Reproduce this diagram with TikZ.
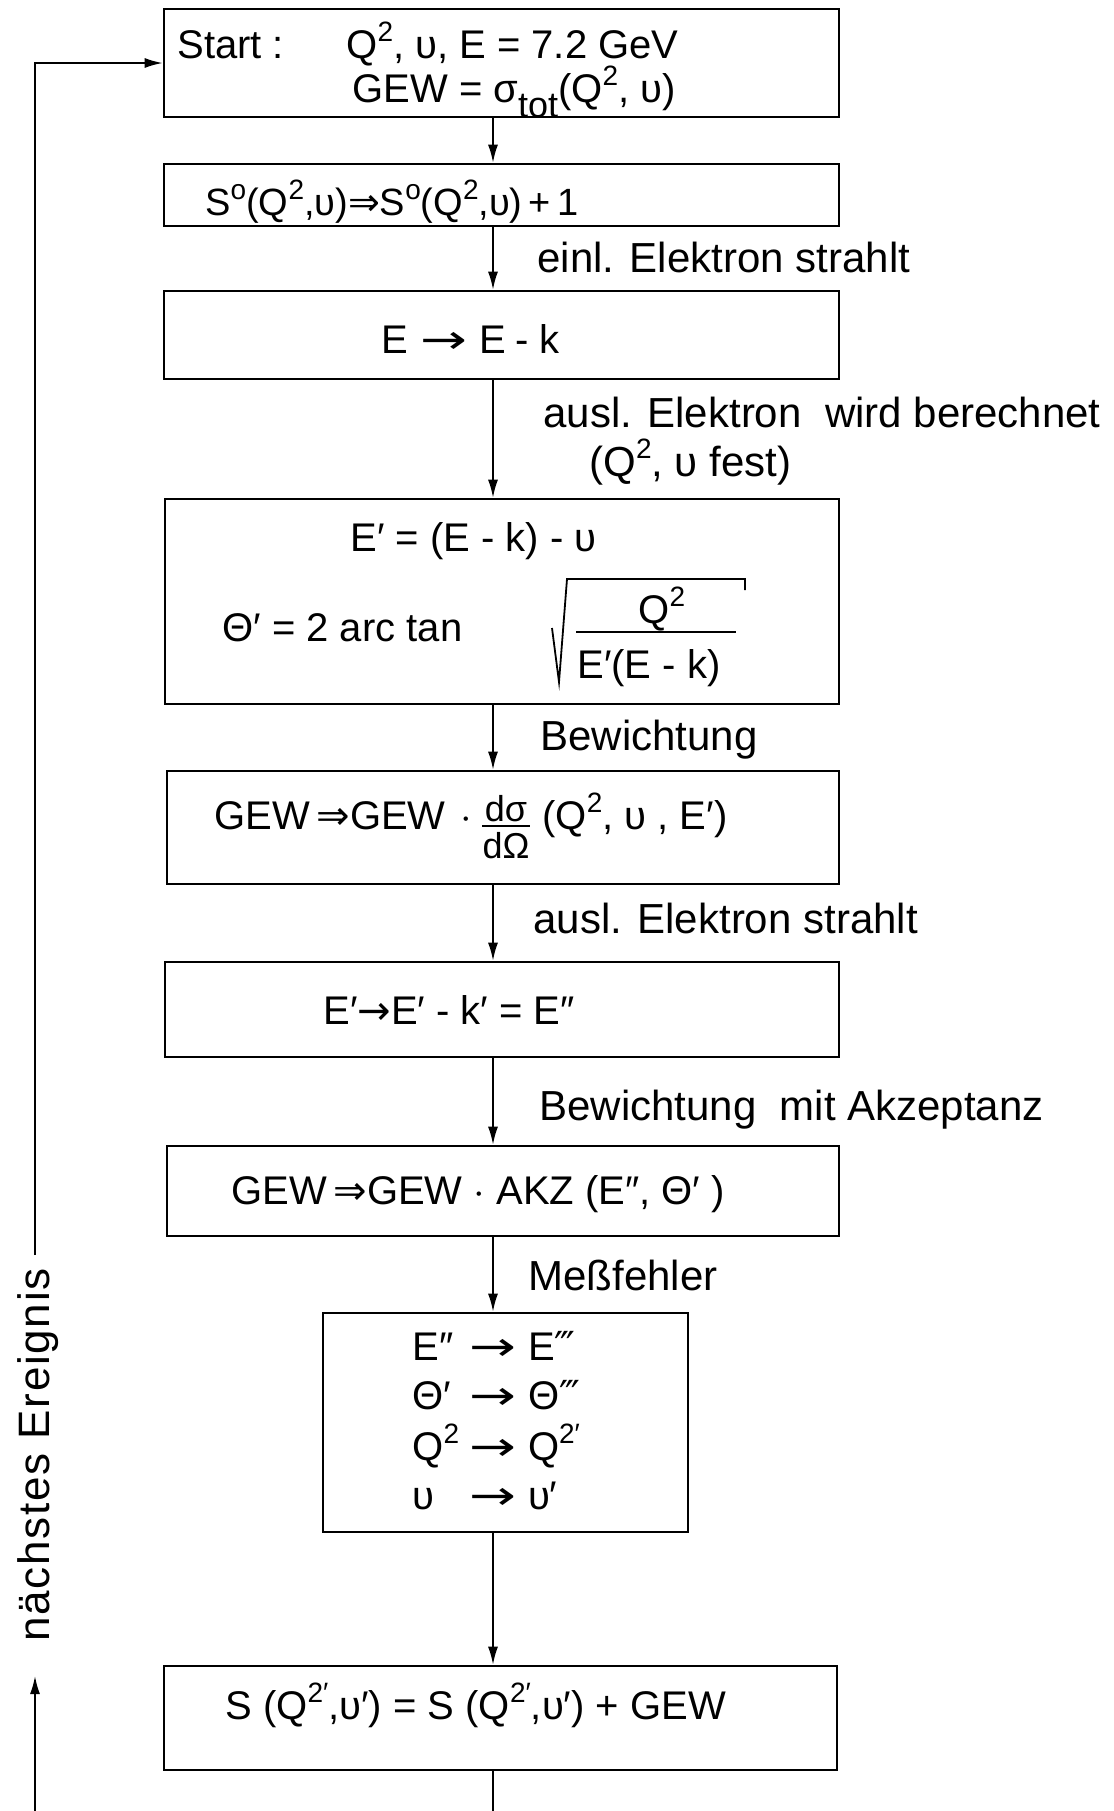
\documentclass[tikz,border=0pt]{standalone}
\usepackage{fontspec}
\setmainfont{Liberation Sans}
\newfontfamily\symf{DejaVu Sans}
\newfontfamily\spaced{Liberation Sans}[LetterSpace=4]
\usetikzlibrary{arrows.meta}
\newcommand\hoch[1]{\raisebox{0.42em}{\fontsize{14pt}{14pt}\selectfont #1}}
\newcommand\tief[1]{\raisebox{-0.38em}{\fontsize{18pt}{18pt}\selectfont #1}}
\newcommand\pra{{\symf →}}
\newcommand\lra{\scalebox{1.4}[1]{\symf →}}
\newcommand\dRa{{\symf ⇒}}
\newcommand\trp{{\symf ‴}}
\begin{document}
\begin{tikzpicture}[x=0.5pt,y=-0.5pt,
  box/.style={draw, line width=1.3pt, inner sep=0pt},
  arr/.style={line width=0.9pt, -{Latex[length=9pt,width=5pt]}},
  plain/.style={line width=0.9pt},
  txt/.style={inner sep=0pt, anchor=base west, font=\fontsize{21pt}{24.5pt}\selectfont},
  frm/.style={inner sep=0pt, anchor=base west, font=\fontsize{20pt}{24.5pt}\selectfont},
  frc/.style={inner sep=0pt, anchor=base, font=\fontsize{18pt}{20pt}\selectfont}]
\useasboundingbox (0,0) rectangle (1114,1811);

% boxes
\node[box, minimum width=337.5pt, minimum height=54pt]  (b1) at (501.5,63) {};
\node[box, minimum width=337.5pt, minimum height=31pt]  (b2) at (501.5,195) {};
\node[box, minimum width=337.5pt, minimum height=44pt]  (b3) at (501.5,335) {};
\node[box, minimum width=337pt,   minimum height=102.5pt] (b4) at (502,601.5) {};
\node[box, minimum width=336pt,   minimum height=56.5pt] (b5) at (503,827.5) {};
\node[box, minimum width=337pt,   minimum height=47.5pt] (b6) at (502,1009.5) {};
\node[box, minimum width=336pt,   minimum height=45pt]   (b7) at (503,1191) {};
\node[box, minimum width=182.5pt, minimum height=109.5pt] (b8) at (505.5,1422.5) {};
\node[box, minimum width=336.5pt, minimum height=52pt]   (b9) at (500.5,1718) {};

% box texts
\node[frm] (t1a) at (177,58) {Start :};
\node[frm] (t1b) at (346,58) {Q\hoch{2}, υ, E = 7.2 GeV};
\node[frm] (t1c) at (352,102) {GEW = σ\tief{tot}(Q\hoch{2}, υ)};
\node[frm, font=\fontsize{19pt}{24pt}\selectfont] (t2) at (205,215) {S\hoch{o}(Q\hoch{2},υ)\dRa S\hoch{o}(Q\hoch{2},υ)\,+\,1};
\node[frm] (t3) at (381,353) {E\hspace{6pt}\lra\hspace{6pt}E\hspace{5pt}-\hspace{5pt}k};
\node[frm] (t4a) at (350,551) {E′ = (E - k) - υ};
\node[frm] (t4b) at (222,641) {Θ′ = 2 arc tan};
\node[frm] (t4n) at (638,623) {Q\hoch{2}};
\node[frm] (t4d) at (577,678) {E′(E - k)};
\draw[plain] (552,628) -- (559,682) -- (567,579) -- (745,579) -- (745,590);
\draw[plain] (576,632) -- (736,632);
\node[frm] (t5a) at (214,829) {GEW\,\dRa GEW};
\node[frm] (t5b) at (460,829) {$\cdot$};
\node[frc] (t5n) at (506,821) {dσ};
\node[frc] (t5d) at (506,858) {dΩ};
\draw[plain] (482,826) -- (530,826);
\node[frm] (t5c) at (542,829) {(Q\hoch{2}, υ , E′)};
\node[frm] (t6) at (323,1024) {E′\pra E′ - k′ = E″};
\node[frm] (t7) at (231,1204) {GEW\,\dRa GEW $\cdot$ AKZ (E″, Θ′ )};
\node[frm, anchor=north west] (t8) at (412,1326) {\begin{tabular}{@{}l@{\hspace{5pt}}c@{\hspace{6pt}}l@{}}
E″ & \lra & E\trp\\
Θ′ & \lra & Θ\trp\\
Q\hoch{2} & \lra & Q\hoch{2′}\\
υ & \lra & υ′
\end{tabular}};
\node[frm] (t9) at (225,1719) {S (Q\hoch{2′},υ′) = S (Q\hoch{2′},υ′) + GEW};

% connector labels
\node[txt] (l1) at (537,272) {einl. Elektron strahlt};
\node[txt] (l2) at (543,427) {ausl. Elektron\ \ wird berechnet};
\node[txt] (l2b) at (589,476) {(Q\hoch{2}, υ fest)};
\node[txt] (l3) at (540,750) {Bewichtung};
\node[txt] (l4) at (533,933) {ausl. Elektron strahlt};
\node[txt] (l5) at (539,1120) {Bewichtung\ \ mit Akzeptanz};
\node[txt] (l6) at (528,1290) {Meßfehler};
\node[inner sep=0pt, anchor=center, rotate=90, font=\spaced\fontsize{22pt}{24pt}\selectfont] (ne) at (38,1455) {nächstes Ereignis};

% connectors
\coordinate (cx) at (493,0);
\coordinate (bot) at (493,1811);
\draw[arr] (b1.south -| cx) -- (b2.north -| cx);
\draw[arr] (b2.south -| cx) -- (b3.north -| cx);
\draw[arr] (b3.south -| cx) -- (b4.north -| cx);
\draw[arr] (b4.south -| cx) -- (b5.north -| cx);
\draw[arr] (b5.south -| cx) -- (b6.north -| cx);
\draw[arr] (b6.south -| cx) -- (b7.north -| cx);
\draw[arr] (b7.south -| cx) -- (b8.north -| cx);
\draw[arr] (b8.south -| cx) -- (b9.north -| cx);
\draw[plain] (b9.south -| cx) -- (bot);

\coordinate (lb) at (35,1811);
\coordinate (la) at (35,1676);
\coordinate (lt) at (35,1255);
\draw[arr] (lb) -- (la);
\draw[arr] (lt) |- (b1.west);
\end{tikzpicture}
\end{document}
